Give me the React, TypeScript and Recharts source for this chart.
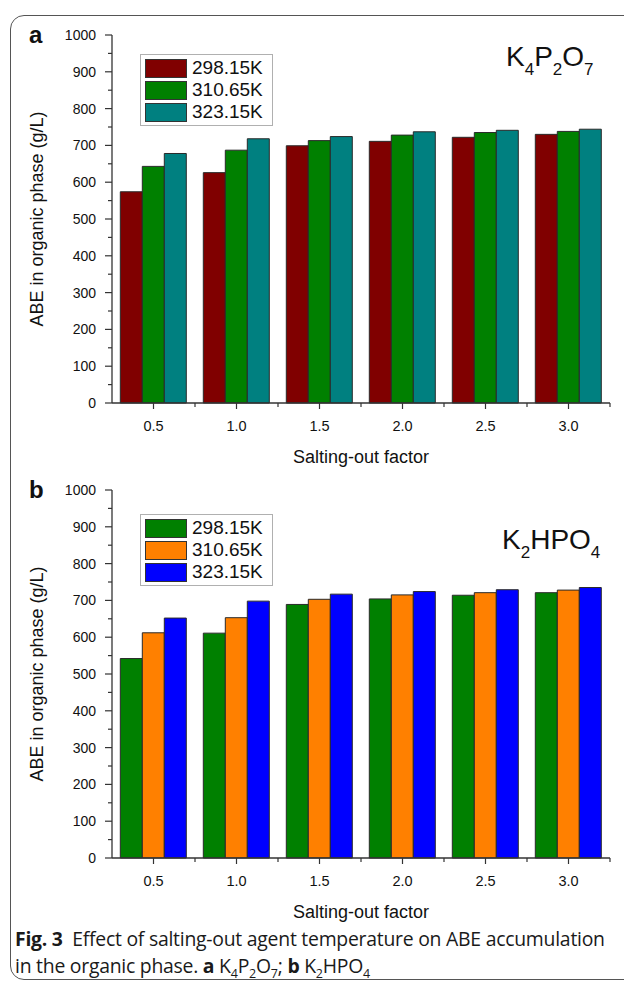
import React from 'react';
import { BarChart, Bar, XAxis, YAxis, Legend } from 'recharts';

const factors = ['0.5', '1.0', '1.5', '2.0', '2.5', '3.0'];
const temps = ['298.15K', '310.65K', '323.15K'];

const k4p2o7At298 = [574, 626, 699, 711, 722, 730];
const k4p2o7At310 = [643, 687, 713, 728, 735, 738];
const k4p2o7At323 = [678, 718, 724, 737, 741, 744];

const k2hpo4At298 = [542, 611, 689, 704, 714, 721];
const k2hpo4At310 = [612, 653, 703, 715, 721, 728];
const k2hpo4At323 = [652, 698, 717, 724, 729, 735];

const yTicks = [0, 50, 100, 150, 200, 250, 300, 350, 400, 450, 500, 550, 600, 650, 700, 750, 800, 850, 900, 950, 1000];

const colorsA = ['#800000', '#008000', '#008080'];
const colorsB = ['#008000', '#FF8000', '#0000FF'];

const FONT = '"Liberation Sans", Arial, Helvetica, sans-serif';

const buildRows = (s1: number[], s2: number[], s3: number[]) =>
  factors.map((f, i) => ({ factor: f, t1: s1[i], t2: s2[i], t3: s3[i] }));

const YTick = (props: any) => {
  const { x, y, payload } = props;
  const major = payload.value % 100 === 0;
  return (
    <g>
      <line x1={x - (major ? 7 : 4)} x2={x} y1={y} y2={y} stroke="#333" strokeWidth={1.2} />
      {major && (
        <text x={x - 16} y={y} dy="0.36em" textAnchor="end" fontSize={14} fill="#111" fontFamily={FONT}>
          {payload.value}
        </text>
      )}
    </g>
  );
};

const XTick = (props: any) => {
  const { x, y, payload } = props;
  const half = payload.offset || 41.5;
  return (
    <g>
      <line x1={x} x2={x} y1={y} y2={y + 6} stroke="#333" strokeWidth={1.2} />
      <line x1={x + half} x2={x + half} y1={y} y2={y + 4} stroke="#333" strokeWidth={1.2} />
      <text x={x} y={y + 28} textAnchor="middle" fontSize={14.5} fill="#111" fontFamily={FONT}>
        {payload.value}
      </text>
    </g>
  );
};

const LegendBox = (props: any) => {
  const { payload } = props;
  return (
    <div
      style={{
        border: '1px solid #b0b0b0',
        background: '#fff',
        padding: '2px 6px 2px 4px',
        fontFamily: FONT,
        width: 121,
      }}
    >
      {(payload || []).map((p: any) => (
        <div key={p.value} style={{ display: 'flex', alignItems: 'center', height: 22 }}>
          <div
            style={{
              width: 42,
              height: 19,
              background: p.color,
              border: '1px solid #333',
              boxSizing: 'border-box',
            }}
          />
          <span style={{ marginLeft: 5, fontSize: 19, color: '#111', lineHeight: '22px' }}>{p.value}</span>
        </div>
      ))}
    </div>
  );
};

type PanelProps = {
  rows: any[];
  colors: string[];
  top: number;
  legendTop: number;
};

const Panel = ({ rows, colors, top, legendTop }: PanelProps) => (
  <div style={{ position: 'absolute', left: 0, top, width: 624, height: 475, fontFamily: FONT }}>
    <BarChart
      width={624}
      height={475}
      data={rows}
      margin={{ top: 35, right: 14, bottom: 12, left: 0 }}
      barCategoryGap="10%"
      barGap={0}
    >
      <XAxis
        dataKey="factor"
        height={60}
        interval={0}
        tickLine={false}
        tickSize={0}
        tickMargin={0}
        axisLine={{ stroke: '#333', strokeWidth: 1.3 }}
        tick={<XTick />}
        label={{
          value: 'Salting-out factor',
          position: 'insideBottom',
          offset: 0,
          style: { fontSize: 18, fill: '#111', fontFamily: FONT },
        }}
      />
      <YAxis
        width={112}
        domain={[0, 1000]}
        ticks={yTicks}
        interval={0}
        tickLine={false}
        tickSize={0}
        tickMargin={0}
        axisLine={{ stroke: '#333', strokeWidth: 1.3 }}
        tick={<YTick />}
        label={{
          value: 'ABE in organic phase (g/L)',
          angle: -90,
          position: 'insideLeft',
          offset: 37,
          style: { textAnchor: 'middle', fontSize: 18, fill: '#111', fontFamily: FONT },
        }}
      />
      <Legend
        layout="vertical"
        align="center"
        verticalAlign="middle"
        wrapperStyle={{ left: 140, top: legendTop, width: 'auto' }}
        content={<LegendBox />}
      />
      <Bar dataKey="t1" name={temps[0]} fill={colors[0]} stroke="#2a2a2a" strokeWidth={1} isAnimationActive={false} />
      <Bar dataKey="t2" name={temps[1]} fill={colors[1]} stroke="#2a2a2a" strokeWidth={1} isAnimationActive={false} />
      <Bar dataKey="t3" name={temps[2]} fill={colors[2]} stroke="#2a2a2a" strokeWidth={1} isAnimationActive={false} />
    </BarChart>
  </div>
);

const subStyle: React.CSSProperties = { fontSize: 17, position: 'relative', top: 9, verticalAlign: 'baseline' };
const capSub: React.CSSProperties = { fontSize: 12.5 };

export default function App() {
  const rowsA = buildRows(k4p2o7At298, k4p2o7At310, k4p2o7At323);
  const rowsB = buildRows(k2hpo4At298, k2hpo4At310, k2hpo4At323);
  return (
    <div style={{ position: 'absolute', left: 0, top: 0, width: 624, height: 983, background: '#fff', overflow: 'hidden' }}>
      <div
        style={{
          position: 'absolute',
          left: 10,
          top: 15,
          width: 650,
          height: 965,
          border: '1.3px solid #555',
          borderRadius: 14,
          boxSizing: 'border-box',
        }}
      />
      <Panel rows={rowsA} colors={colorsA} top={0} legendTop={54} />
      <Panel rows={rowsB} colors={colorsB} top={455} legendTop={59} />

      <div style={{ position: 'absolute', left: 29, top: 21, fontFamily: FONT, fontWeight: 'bold', fontSize: 24, color: '#111' }}>a</div>
      <div style={{ position: 'absolute', left: 29, top: 476, fontFamily: FONT, fontWeight: 'bold', fontSize: 24, color: '#111' }}>b</div>

      <div style={{ position: 'absolute', left: 506, top: 39, fontFamily: FONT, fontSize: 28, color: '#111', lineHeight: '36px', whiteSpace: 'nowrap' }}>
        K<span style={subStyle}>4</span>P<span style={subStyle}>2</span>O<span style={subStyle}>7</span>
      </div>
      <div style={{ position: 'absolute', left: 502, top: 522, fontFamily: FONT, fontSize: 28, color: '#111', lineHeight: '36px', whiteSpace: 'nowrap' }}>
        K<span style={subStyle}>2</span>HPO<span style={subStyle}>4</span>
      </div>

      <div
        style={{
          position: 'absolute',
          left: 15,
          top: 925,
          fontFamily: '"Open Sans", "Noto Sans", sans-serif',
          fontSize: 19.4,
          lineHeight: '27px',
          color: '#1a1a1a',
          whiteSpace: 'nowrap',
          letterSpacing: -0.25,
        }}
      >
        <div>
          <b>Fig. 3</b>&nbsp; Effect of salting-out agent temperature on ABE accumulation
        </div>
        <div>
          in the organic phase. <b>a</b> K<sub style={capSub}>4</sub>P<sub style={capSub}>2</sub>O<sub style={capSub}>7</sub>;{' '}
          <b>b</b> K<sub style={capSub}>2</sub>HPO<sub style={capSub}>4</sub>
        </div>
      </div>
    </div>
  );
}
